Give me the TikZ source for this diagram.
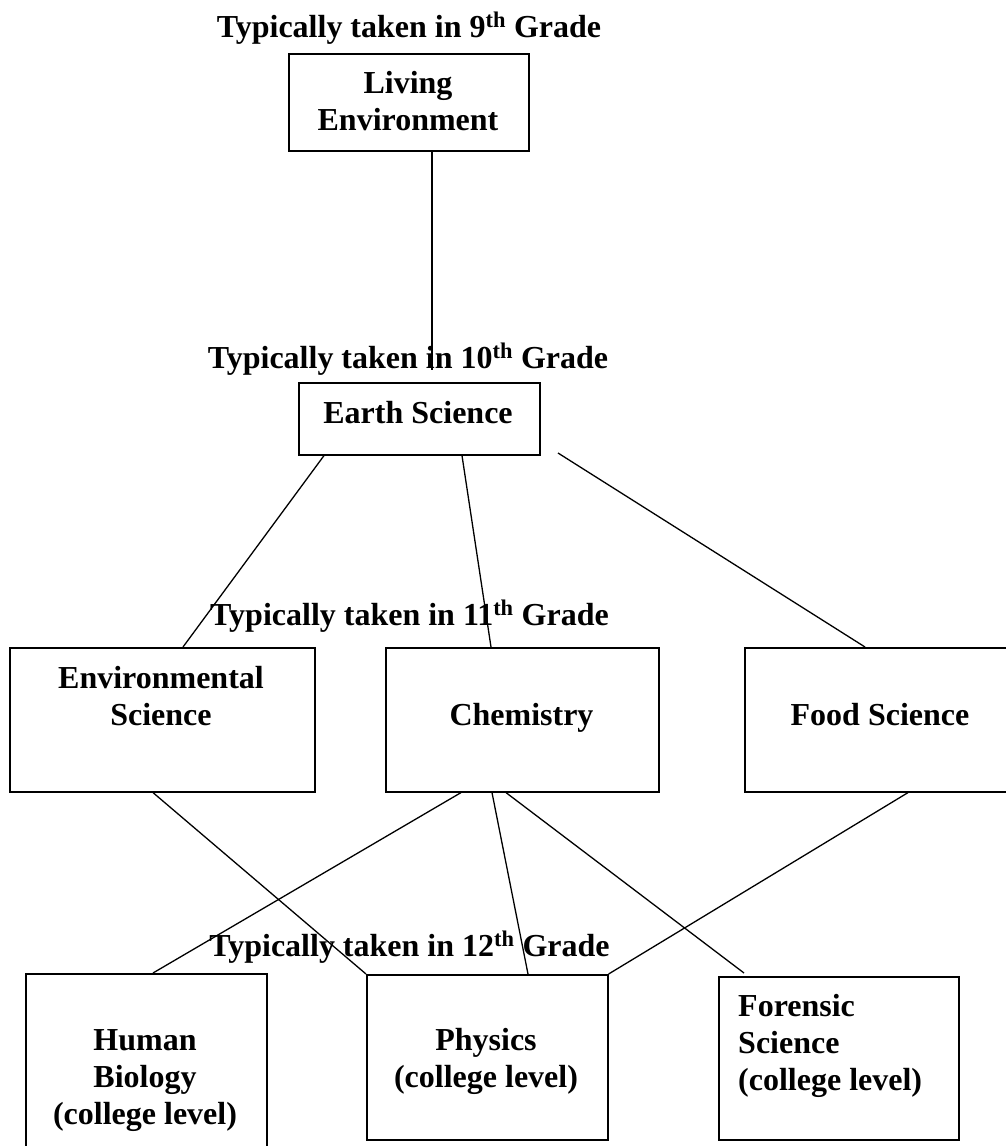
\documentclass[tikz,border=0pt]{standalone}
\usepackage{fontspec}
\setmainfont{Liberation Serif}
\begin{document}
\begin{tikzpicture}[x=1pt,y=-1pt,
  boxnode/.style={draw, line width=1.6pt, inner sep=0pt, anchor=north west},
  lbl/.style={anchor=base, align=center, inner sep=0pt, font=\fontsize{32}{37}\selectfont\bfseries},
  lbll/.style={anchor=base west, align=left, inner sep=0pt, font=\fontsize{32}{37}\selectfont\bfseries},
  conn/.style={line width=1.3pt}]
\useasboundingbox (0,0) rectangle (1005,1146);
% grade titles
\node[lbl] (g9)  at (409,37)  {Typically taken in 9\textsuperscript{th} Grade};
\node[lbl] (g10) at (408,368) {Typically taken in 10\textsuperscript{th} Grade};
\node[lbl] (g11) at (409.5,625) {Typically taken in 11\textsuperscript{th} Grade};
\node[lbl] (g12) at (409.5,956) {Typically taken in 12\textsuperscript{th} Grade};
% boxes
\node[boxnode, minimum width=240, minimum height=97]  (living)   at (288,53)  {};
\node[boxnode, minimum width=241, minimum height=72]  (earth)    at (298,382) {};
\node[boxnode, minimum width=305, minimum height=144] (env)      at (9,647)   {};
\node[boxnode, minimum width=273, minimum height=144] (chem)     at (385,647) {};
\node[boxnode, minimum width=272, minimum height=144] (food)     at (744,647) {};
\node[boxnode, minimum width=241, minimum height=190] (human)    at (25,973)  {};
\node[boxnode, minimum width=241, minimum height=165] (physics)  at (366,974) {};
\node[boxnode, minimum width=240, minimum height=163] (forensic) at (718,976) {};
% box texts (anchor = baseline of the last line)
\node[lbl] (tliving)   at (408,130)   {Living\\Environment};
\node[lbl] (tearth)    at (418,423)   {Earth Science};
\node[lbl] (tenv)      at (161,725)   {Environmental\\Science};
\node[lbl] (tchem)     at (521.5,725) {Chemistry};
\node[lbl] (tfood)     at (880,725)   {Food Science};
\node[lbl] (thuman)    at (145,1124)  {Human\\Biology\\(college level)};
\node[lbl] (tphysics)  at (486,1087)  {Physics\\(college level)};
\node[lbll] (tforensic) at (738,1090) {Forensic\\Science\\(college level)};
% connectors
\coordinate (livEnd) at (432,370);
\coordinate (foodStart) at (558,453);
\draw[conn] ([xshift=144]living.south west) -- (livEnd);
\draw[conn] ([xshift=26]earth.south west) -- ([xshift=174]env.north west);
\draw[conn] ([xshift=164]earth.south west) -- ([xshift=106]chem.north west);
\draw[conn] (foodStart) -- ([xshift=121]food.north west);
\draw[conn] ([xshift=144]env.south west) -- (physics.north west);
\draw[conn] ([xshift=76]chem.south west) -- ([xshift=128]human.north west);
\draw[conn] ([xshift=107]chem.south west) -- ([xshift=162]physics.north west);
\draw[conn] ([xshift=121]chem.south west) -- ([xshift=26,yshift=3]forensic.north west);
\draw[conn] ([xshift=164]food.south west) -- (physics.north east);
\end{tikzpicture}
\end{document}
